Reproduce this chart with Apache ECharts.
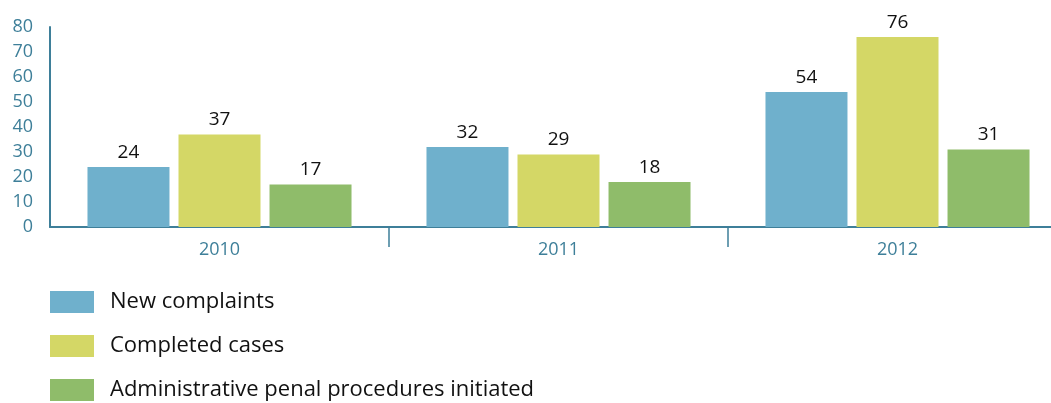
<!DOCTYPE html>
<html>
<head>
<meta charset="utf-8">
<script src="https://cdn.jsdelivr.net/npm/echarts@6/dist/echarts.min.js"></script>
<style>
  html, body { margin: 0; padding: 0; background: #fff; }
  #chart { width: 1051px; height: 403px; }
</style>
</head>
<body>
<div id="chart"></div>
<script>
// 年份与三组数据
const years = ['2010', '2011', '2012'];
const newComplaints = [24, 32, 54];
const completedCases = [37, 29, 76];
const penalProcedures = [17, 18, 31];
const seriesNames = ['New complaints', 'Completed cases', 'Administrative penal procedures initiated'];
const colors = ['#6fb0cc', '#d4d766', '#8fbc6a'];

const axisColor = '#3e7f99';
const font = 'Open Sans, sans-serif';

function barSeries(name, data, color) {
    return {
        name: name,
        type: 'bar',
        data: data,
        barWidth: 82,
        barGap: '11%',
        itemStyle: { color: color },
        label: {
            show: true,
            position: 'top',
            distance: 5,
            color: '#111',
            fontSize: 19,
            fontFamily: font
        }
    };
}

const myChart = echarts.init(document.getElementById('chart'));
const option = {
    animation: false,
    grid: { left: 50, right: -16, top: 27, bottom: 176, outerBoundsMode: 'none' },
    legend: {
        orient: 'vertical',
        left: 50,
        top: 291,
        padding: 0,
        itemWidth: 44,
        itemHeight: 22,
        itemGap: 22,
        icon: 'rect',
        textStyle: { fontSize: 22, lineHeight: 22, color: '#111', fontFamily: font, padding: [0, 0, 0, 11] },
        data: seriesNames
    },
    xAxis: {
        type: 'category',
        data: years,
        axisLine: { lineStyle: { color: axisColor, width: 2 } },
        // 第一个刻度被 y 轴挡住，参考图里没有
        axisTick: {
            show: true,
            length: 20,
            interval: function (index) { return index > 0; },
            lineStyle: { color: axisColor, width: 1.5 }
        },
        axisLabel: { color: axisColor, fontSize: 18, fontFamily: font, margin: 14 }
    },
    yAxis: {
        type: 'value',
        min: 0,
        max: 80,
        interval: 10,
        splitLine: { show: false },
        axisLine: { show: true, lineStyle: { color: axisColor, width: 2 } },
        axisTick: { show: false },
        axisLabel: { color: axisColor, fontSize: 18, fontFamily: font, margin: 17 }
    },
    series: [
        barSeries(seriesNames[0], newComplaints, colors[0]),
        barSeries(seriesNames[1], completedCases, colors[1]),
        barSeries(seriesNames[2], penalProcedures, colors[2])
    ]
};
myChart.setOption(option);
</script>
</body>
</html>
